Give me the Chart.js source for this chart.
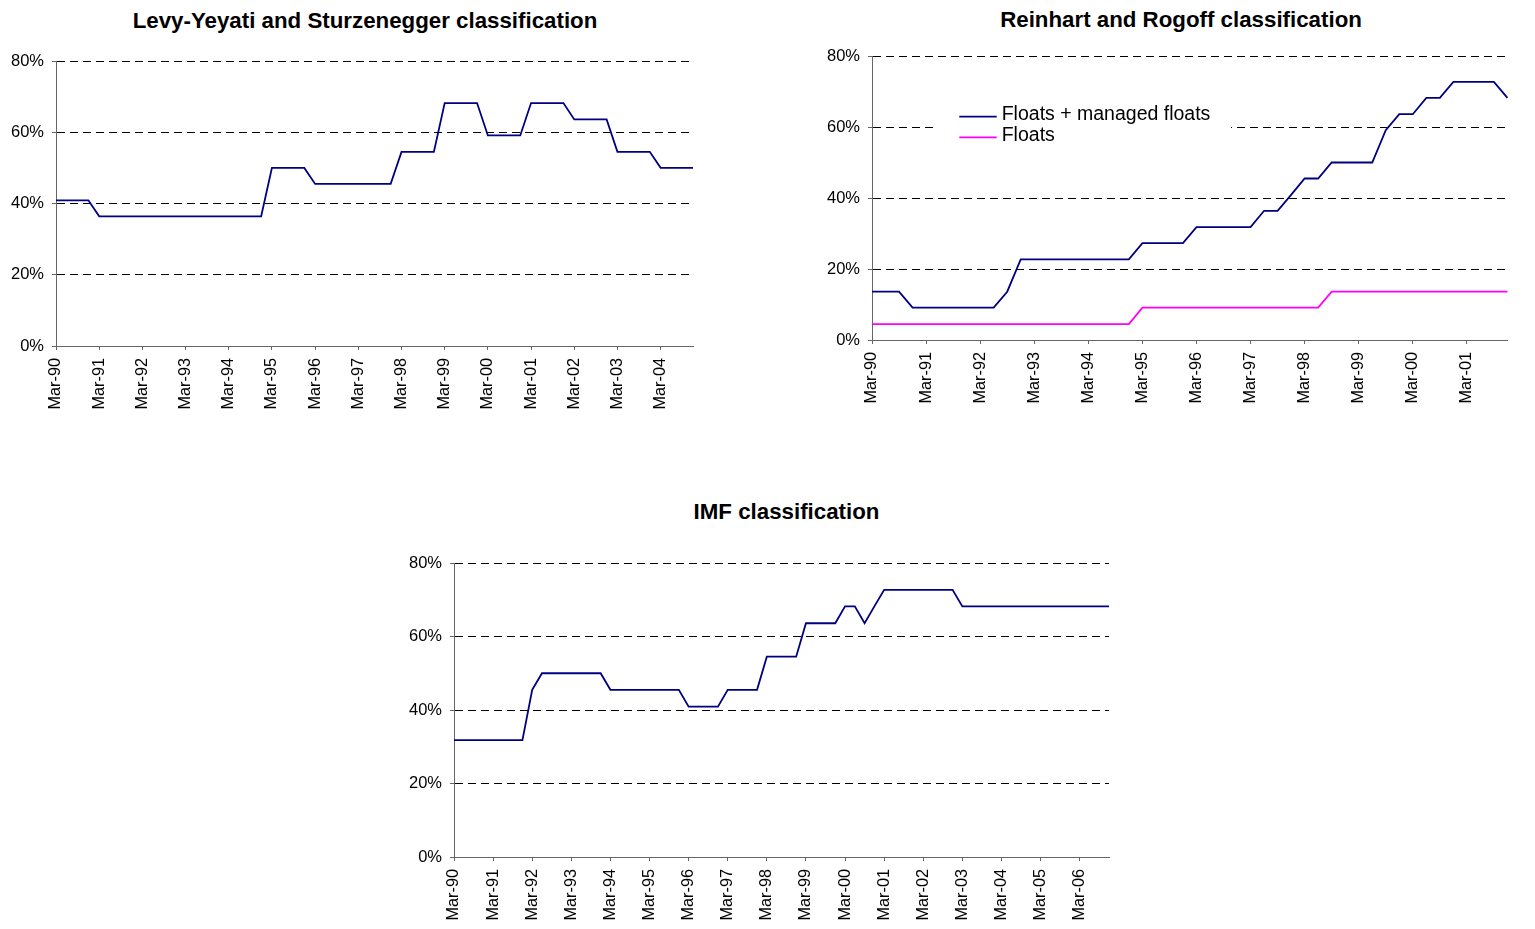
<!DOCTYPE html>
<html>
<head>
<meta charset="utf-8">
<script src="https://cdn.jsdelivr.net/npm/chart.js@4.4.1/dist/chart.umd.min.js"></script>
<style>
  html, body { margin: 0; padding: 0; background: #fff; overflow: hidden; }
  body { width: 1535px; height: 929px; position: relative; }
  .box { position: absolute; }
  .title {
    position: absolute;
    height: 26px;
    line-height: 26px;
    text-align: center;
    font-family: "Liberation Sans", Arial, Helvetica, sans-serif;
    font-weight: bold;
    font-size: 22.3px;
    color: #000;
    white-space: nowrap;
  }
</style>
</head>
<body>
<div class="title" style="left:65px;top:7.8px;width:600px">Levy-Yeyati and Sturzenegger classification</div>
<div class="title" style="left:931px;top:6.8px;width:500px">Reinhart and Rogoff classification</div>
<div class="title" style="left:586.5px;top:498.6px;width:400px">IMF classification</div>
<div class="box" style="left:0;top:0;width:730px;height:420px"><canvas id="lysChart"></canvas></div>
<div class="box" style="left:825px;top:0;width:710px;height:420px"><canvas id="rrChart"></canvas></div>
<div class="box" style="left:400px;top:480px;width:772px;height:449px"><canvas id="imfChart"></canvas></div>
<script>
// quarterly observations, share of countries (%)
const quarters = ["Mar", "Jun", "Sep", "Dec"];
const lysYears = ["90","91","92","93","94","95","96","97","98","99","00","01","02","03","04"];
const rrYears = ["90","91","92","93","94","95","96","97","98","99","00","01"];
const imfYears = ["90","91","92","93","94","95","96","97","98","99","00","01","02","03","04","05","06"];

// Levy-Yeyati and Sturzenegger
const lysShare = [
  40.9, 40.9, 40.9, 40.9,
  36.4, 36.4, 36.4, 36.4,
  36.4, 36.4, 36.4, 36.4,
  36.4, 36.4, 36.4, 36.4,
  36.4, 36.4, 36.4, 36.4,
  50.0, 50.0, 50.0, 50.0,
  45.5, 45.5, 45.5, 45.5,
  45.5, 45.5, 45.5, 45.5,
  54.5, 54.5, 54.5, 54.5,
  68.2, 68.2, 68.2, 68.2,
  59.1, 59.1, 59.1, 59.1,
  68.2, 68.2, 68.2, 68.2,
  63.6, 63.6, 63.6, 63.6,
  54.5, 54.5, 54.5, 54.5,
  50.0, 50.0, 50.0, 50.0
];

// Reinhart and Rogoff
const rrManaged = [
  13.6, 13.6, 13.6, 9.1,
  9.1, 9.1, 9.1, 9.1,
  9.1, 9.1, 13.6, 22.7,
  22.7, 22.7, 22.7, 22.7,
  22.7, 22.7, 22.7, 22.7,
  27.3, 27.3, 27.3, 27.3,
  31.8, 31.8, 31.8, 31.8,
  31.8, 36.4, 36.4, 40.9,
  45.5, 45.5, 50.0, 50.0,
  50.0, 50.0, 59.1, 63.6,
  63.6, 68.2, 68.2, 72.7,
  72.7, 72.7, 72.7, 68.2
];
const rrFloats = [
  4.5, 4.5, 4.5, 4.5,
  4.5, 4.5, 4.5, 4.5,
  4.5, 4.5, 4.5, 4.5,
  4.5, 4.5, 4.5, 4.5,
  4.5, 4.5, 4.5, 4.5,
  9.1, 9.1, 9.1, 9.1,
  9.1, 9.1, 9.1, 9.1,
  9.1, 9.1, 9.1, 9.1,
  9.1, 9.1, 13.6, 13.6,
  13.6, 13.6, 13.6, 13.6,
  13.6, 13.6, 13.6, 13.6,
  13.6, 13.6, 13.6, 13.6
];

// IMF
const imfShare = [
  31.8, 31.8, 31.8, 31.8,
  31.8, 31.8, 31.8, 31.8,
  45.5, 50.0, 50.0, 50.0,
  50.0, 50.0, 50.0, 50.0,
  45.5, 45.5, 45.5, 45.5,
  45.5, 45.5, 45.5, 45.5,
  40.9, 40.9, 40.9, 40.9,
  45.5, 45.5, 45.5, 45.5,
  54.5, 54.5, 54.5, 54.5,
  63.6, 63.6, 63.6, 63.6,
  68.2, 68.2, 63.6, 68.2,
  72.7, 72.7, 72.7, 72.7,
  72.7, 72.7, 72.7, 72.7,
  68.2, 68.2, 68.2, 68.2,
  68.2, 68.2, 68.2, 68.2,
  68.2, 68.2, 68.2, 68.2,
  68.2, 68.2, 68.2, 68.2
];

const yTicks = [0, 20, 40, 60, 80];

const FONT = '"Liberation Sans", Arial, Helvetica, sans-serif';
Chart.defaults.font.family = FONT;
Chart.defaults.color = "#000";

function quarterLabels(years) {
  const out = [];
  years.forEach(y => quarters.forEach(q => out.push(q + "-" + y)));
  return out;
}

// legend drawn inside the plot, with a white box behind it
const legendBox = {
  id: "legendBox",
  beforeDatasetsDraw(chart, args, opts) {
    const { ctx, chartArea } = chart;
    const x0 = chartArea.left + opts.x;
    const y0 = chartArea.top + opts.y;
    ctx.save();
    ctx.fillStyle = "#fff";
    ctx.fillRect(x0, y0, opts.width, opts.height);
    ctx.font = opts.fontSize + "px " + FONT;
    ctx.textBaseline = "middle";
    chart.data.datasets.forEach((ds, i) => {
      const y = y0 + opts.rowTop + i * opts.rowGap;
      ctx.strokeStyle = ds.borderColor;
      ctx.lineWidth = ds.borderWidth;
      ctx.beginPath();
      ctx.moveTo(x0 + opts.lineX, y);
      ctx.lineTo(x0 + opts.lineX + opts.lineLen, y);
      ctx.stroke();
      ctx.fillStyle = "#000";
      ctx.fillText(ds.label, x0 + opts.textX, y + opts.textDy);
    });
    ctx.restore();
  }
};

function makeChart(id, cfg) {
  const labels = quarterLabels(cfg.years);
  return new Chart(document.getElementById(id), {
    type: "line",
    data: { labels: labels, datasets: cfg.datasets },
    options: {
      responsive: true,
      maintainAspectRatio: false,
      animation: false,
      layout: { padding: { left: 0, right: cfg.padRight, top: cfg.padTop, bottom: 0 } },
      elements: { point: { radius: 0 }, line: { tension: 0 } },
      plugins: {
        legend: { display: false },
        tooltip: { enabled: false },
        title: { display: false },
        legendBox: cfg.legendBox || {}
      },
      scales: {
        x: {
          afterFit: s => { s.height = cfg.xHeight; },
          ticks: {
            autoSkip: false,
            minRotation: 90,
            maxRotation: 90,
            padding: 8,
            color: "#000",
            font: { size: 16.3 },
            callback: (v, i) => (i % 4 === 0 ? labels[i] : "")
          },
          grid: {
            drawOnChartArea: false,
            tickLength: 4,
            tickColor: c => (c.index % 4 === 0 ? "#666" : "transparent")
          },
          border: { color: "#666", width: 1 }
        },
        y: {
          min: 0,
          max: 80,
          afterFit: s => { s.width = cfg.yWidth; },
          afterBuildTicks: s => { s.ticks = yTicks.map(v => ({ value: v })); },
          ticks: {
            padding: 8,
            color: "#000",
            font: { size: 16.5 },
            callback: v => v + "%"
          },
          grid: {
            color: c => (c.tick && c.tick.value === 0 ? "transparent" : "#000"),
            lineWidth: 1,
            tickLength: 4,
            tickColor: "#666"
          },
          border: { color: "#666", width: 1, dash: [8, 5] }
        }
      }
    },
    plugins: cfg.legendBox ? [legendBox] : []
  });
}

makeChart("lysChart", {
  years: lysYears,
  yWidth: 56,
  xHeight: 74,
  padRight: 37,
  padTop: 61,
  datasets: [
    { label: "Floats + managed floats", data: lysShare, borderColor: "#000080", borderWidth: 1.8 }
  ]
});

makeChart("rrChart", {
  years: rrYears,
  yWidth: 47,
  xHeight: 80,
  padRight: 12,
  padTop: 56,
  legendBox: {
    x: 63, y: 44, width: 296, height: 50,
    rowTop: 16.7, rowGap: 20.6,
    lineX: 24.3, lineLen: 37.4, textX: 66.7, textDy: -2,
    fontSize: 19.5
  },
  datasets: [
    { label: "Floats + managed floats", data: rrManaged, borderColor: "#000080", borderWidth: 1.8 },
    { label: "Floats", data: rrFloats, borderColor: "#FF00FF", borderWidth: 1.8 }
  ]
});

makeChart("imfChart", {
  years: imfYears,
  yWidth: 54,
  xHeight: 72,
  padRight: 63,
  padTop: 83,
  datasets: [
    { label: "Floats + managed floats", data: imfShare, borderColor: "#000080", borderWidth: 1.8 }
  ]
});
</script>
</body>
</html>
